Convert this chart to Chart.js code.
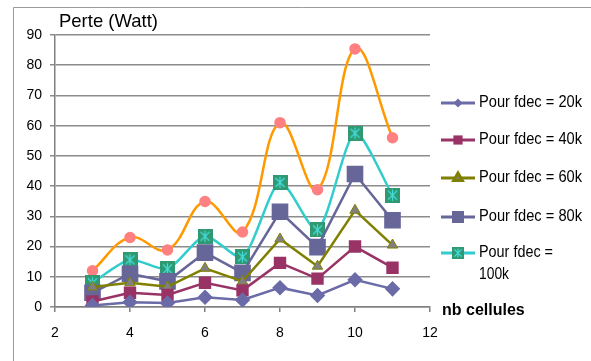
<!DOCTYPE html>
<html>
<head>
<meta charset="utf-8">
<script src="https://cdn.jsdelivr.net/npm/chart.js@4"></script>
<style>
  html, body { margin: 0; padding: 0; background: #fff; }
  #wrap { width: 591px; height: 361px; }
</style>
</head>
<body>
<div id="wrap"><canvas id="chart" width="591" height="361"></canvas></div>
<script>
// data
var nbCellules = [3, 4, 5, 6, 7, 8, 9, 10, 11]
var fdec20k  = [0.5, 1.6, 1.3, 3.2, 2.3, 6.4, 3.8, 9, 6]
var fdec40k  = [1.8, 4.7, 4, 8, 5.5, 14.6, 9.4, 20, 13]
var fdec60k  = [6.6, 8, 6.7, 12.8, 8.5, 22.5, 13.5, 32, 20.5]
var fdec80k  = [4.7, 11, 8.5, 18, 11.3, 31.5, 19.8, 44, 28.7]
var fdec100k = [8, 15.6, 12.6, 23.4, 16.6, 41.2, 25.5, 57.5, 37]
var totalPerte = [12, 23, 18.9, 34.9, 24.8, 61, 38.8, 85.4, 56]
var seriesNames = ["Pour fdec = 20k", "Pour fdec = 40k", "Pour fdec = 60k", "Pour fdec = 80k", "Pour fdec = 100k"]
var xTicks = [2, 4, 6, 8, 10, 12]

function pts(ys) {
    return ys.map(function(y, i){ return {x: nbCellules[i], y: y} })
}

// green square with cyan star for the 100k series
function makeStar(n) {
    var c = document.createElement('canvas')
    c.width = n; c.height = n
    var sc = c.getContext('2d')
    sc.fillStyle = '#2f9a72'
    sc.fillRect(0, 0, n, n)
    sc.strokeStyle = '#44dddd'
    sc.lineWidth = 1.2
    var a = n * 0.2, b = n * 0.8, m = n / 2
    sc.beginPath()
    sc.moveTo(a, a); sc.lineTo(b, b)
    sc.moveTo(b, a); sc.lineTo(a, b)
    sc.moveTo(m, n * 0.12); sc.lineTo(m, n * 0.88)
    sc.stroke()
    return c
}
var starMark = makeStar(15)
var starSmall = makeStar(12)

var datasets = [
    {label: seriesNames[0], data: pts(fdec20k), borderColor: '#6b6ba8', backgroundColor: '#6b6ba8',
     pointStyle: 'rectRot', pointRadius: 6, legendRadius: 4.5, borderWidth: 2.5, tension: 0},
    {label: seriesNames[1], data: pts(fdec40k), borderColor: '#993366', backgroundColor: '#993366',
     pointStyle: 'rect', pointRadius: 7, legendRadius: 6.5, borderWidth: 2.5, tension: 0},
    {label: seriesNames[2], data: pts(fdec60k), borderColor: '#808000', backgroundColor: '#808080',
     pointBorderColor: '#808000', pointBorderWidth: 1, pointStyle: 'triangle', pointRadius: 6, legendRadius: 5, borderWidth: 2.5, tension: 0},
    {label: seriesNames[3], data: pts(fdec80k), borderColor: '#666699', backgroundColor: '#666699',
     pointStyle: 'rect', pointRadius: 10, legendRadius: 8.5, borderWidth: 2.5, tension: 0},
    {label: seriesNames[4], data: pts(fdec100k), borderColor: '#33cccc', backgroundColor: '#2f9a72',
     pointStyle: starMark, legendStyle: starSmall, pointRadius: 7, borderWidth: 2.5, tension: 0.25},
    {label: 'total', data: pts(totalPerte), borderColor: '#ff9900', backgroundColor: '#ff8080',
     pointBorderColor: '#ff8080', pointStyle: 'circle', pointRadius: 4.5, borderWidth: 2.5, tension: 0.4, noLegend: true}
]

var decor = {
    id: 'decor',
    beforeDraw: function(chart){
        var ctx = chart.ctx
        ctx.save()
        ctx.fillStyle = '#ffffff'
        ctx.fillRect(0, 0, chart.width, chart.height)
        ctx.strokeStyle = '#9a9a9a'
        ctx.lineWidth = 1
        ctx.beginPath()
        ctx.moveTo(13.5, 361); ctx.lineTo(13.5, 7.5); ctx.lineTo(591, 7.5)
        ctx.stroke()
        ctx.restore()
    },
    afterDraw: function(chart){
        var ctx = chart.ctx
        ctx.save()
        ctx.fillStyle = '#000'
        ctx.textBaseline = 'middle'
        ctx.font = '19px Arial, "Liberation Sans"'
        ctx.fillText('Perte (Watt)', 59, 22, 99)
        ctx.font = 'bold 16px Arial, "Liberation Sans"'
        ctx.fillText('nb cellules', 442, 311, 86)

        // legend
        var rows = [103, 140, 178, 217, 253]
        ctx.font = '16px Arial, "Liberation Sans"'
        chart.data.datasets.forEach(function(ds, i){
            if (ds.noLegend) return
            var y = rows[i]
            ctx.strokeStyle = ds.borderColor
            ctx.lineWidth = 3
            ctx.beginPath()
            ctx.moveTo(441, y); ctx.lineTo(475, y)
            ctx.stroke()
            ctx.fillStyle = ds.backgroundColor
            ctx.strokeStyle = ds.pointBorderColor || ds.borderColor
            Chart.helpers.drawPoint(ctx, {pointStyle: ds.legendStyle || ds.pointStyle, radius: ds.legendRadius || ds.pointRadius, rotation: 0, borderWidth: ds.pointBorderWidth || 0}, 458, y)
            ctx.fillStyle = '#000'
            if (i == 4) {
                ctx.fillText('Pour fdec =', 479, y, 74)
                ctx.fillText('100k', 479, y + 22, 30)
            } else {
                ctx.fillText(ds.label, 479, y, 103)
            }
        })
        ctx.restore()
    }
}

var chart = new Chart(document.getElementById('chart').getContext('2d'), {
    type: 'line',
    data: {datasets: datasets},
    plugins: [decor],
    options: {
        responsive: false,
        animation: false,
        layout: {padding: {left: 0, top: 35, right: 161, bottom: 0}},
        plugins: {legend: {display: false}, tooltip: {enabled: false}},
        elements: {point: {borderWidth: 0}},
        scales: {
            x: {
                type: 'linear', min: 2, max: 12,
                afterBuildTicks: function(s){ s.ticks = xTicks.map(function(v){ return {value: v} }) },
                grid: {drawOnChartArea: false, color: '#808080', tickLength: 5, lineWidth: 1.5},
                border: {color: '#808080', width: 1.5},
                ticks: {color: '#000', font: {size: 14, family: 'Arial, "Liberation Sans"'}, padding: 13, maxRotation: 0},
                afterFit: function(s){ s.height = 54 }
            },
            y: {
                min: 0, max: 90,
                grid: {color: '#8c8c8c', tickLength: 5, lineWidth: 1.5},
                border: {color: '#808080', width: 1.5},
                ticks: {stepSize: 10, color: '#000', font: {size: 14, family: 'Arial, "Liberation Sans"'}, padding: 8},
                afterFit: function(s){ s.width = 55 }
            }
        }
    }
})
</script>
</body>
</html>
